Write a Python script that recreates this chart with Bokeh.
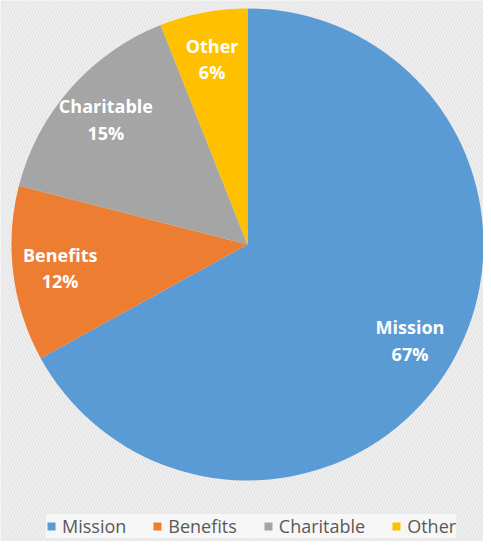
import math
from bokeh.plotting import figure
from bokeh.models import ColumnDataSource, Range1d, Legend, LegendItem
from bokeh.core.properties import value
from bokeh.embed import file_html
from bokeh.resources import INLINE

categories = ["Mission", "Benefits", "Charitable", "Other"]
shares = [67, 12, 15, 6]
colors = ["#5B9BD5", "#ED7D31", "#A5A5A5", "#FFC000"]

W, H = 483, 541
cx, cy, R = 247, 297, 236
label_frac = 0.8

total = float(sum(shares))
starts, ends, lx, ly, texts = [], [], [], [], []
cum = 0.0
for c, s in zip(categories, shares):
    a0 = math.pi / 2 - 2 * math.pi * cum / total
    cum += s
    a1 = math.pi / 2 - 2 * math.pi * cum / total
    starts.append(a0)
    ends.append(a1)
    mid = (a0 + a1) / 2
    lx.append(cx + label_frac * R * math.cos(mid))
    ly.append(cy + label_frac * R * math.sin(mid))
    texts.append(f"{c}\n{s}%")

src = ColumnDataSource(dict(cat=categories, start=starts, end=ends, color=colors,
                            lx=lx, ly=ly, txt=texts))

p = figure(width=W, height=H, output_backend="svg", toolbar_location=None,
           x_range=Range1d(0, W), y_range=Range1d(0, H),
           x_axis_location=None, y_axis_location=None, min_border=0)
p.grid.visible = False
p.outline_line_color = None
p.background_fill_color = "#f3f3f3"
p.border_fill_color = "#f3f3f3"

p.quad(left=[0], right=[W], bottom=[0], top=[H], fill_color="#f8f8f8", line_color=None,
       hatch_pattern="left_diagonal_line", hatch_color="#e6e6e6", hatch_weight=2, hatch_scale=6)

r = p.wedge(x=cx, y=cy, radius=R, start_angle="start", end_angle="end", direction="clock",
            fill_color="color", line_color=None, source=src)

p.text(x="lx", y="ly", text="txt", source=src, text_color="white",
       text_font=value("Open Sans"), text_font_style="bold", text_font_size="18px",
       text_align="center", text_baseline="middle", text_line_height=1.1)

items = [LegendItem(label=c, renderers=[r], index=i) for i, c in enumerate(categories)]
legend = Legend(items=items, orientation="horizontal", location=(46, 3),
                glyph_width=10, glyph_height=10, label_standoff=6, spacing=26,
                padding=6, label_text_font="Open Sans", label_text_font_size="18px",
                label_text_color="#595959", label_height=20,
                background_fill_color="white", background_fill_alpha=0.6,
                border_line_color=None)
p.add_layout(legend)

open("out.html", "w").write(file_html(p, INLINE))
